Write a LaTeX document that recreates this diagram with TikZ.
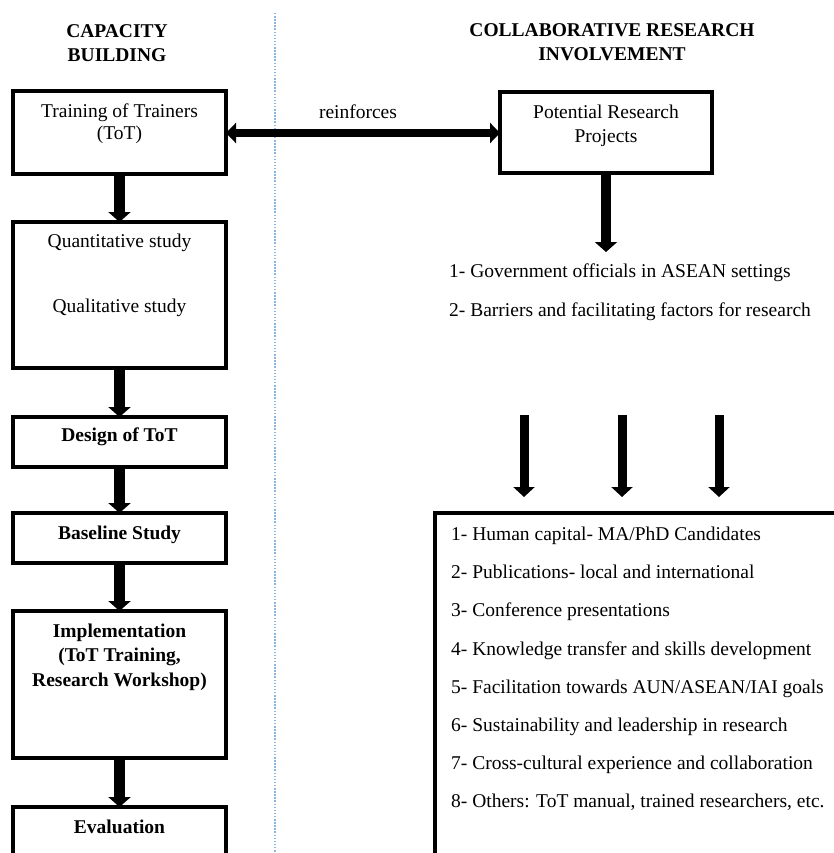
\documentclass[tikz,border=0pt]{standalone}
\usepackage{fontspec}
\setmainfont{Liberation Serif}
\usetikzlibrary{arrows.meta}
\definecolor{divider}{RGB}{140,180,225}
\begin{document}
\begin{tikzpicture}[x=1pt,y=-1pt,
  box/.style={draw, line width=3.1pt, inner sep=0pt, outer sep=0pt},
  txt/.style={font=\fontsize{19.5}{22}\selectfont, align=center, inner sep=0pt},
  head/.style={font=\fontsize{19.5}{24}\selectfont\bfseries, align=center, inner sep=0pt},
  flow/.style={line width=10.5pt, -{Triangle[width=22pt,length=10pt]}},
  thinflow/.style={line width=9pt, -{Triangle[width=21pt,length=10pt]}},
  both/.style={line width=8pt, {Triangle[width=20pt,length=10pt]}-{Triangle[width=20pt,length=10pt]}}]
\useasboundingbox (0,0) rectangle (834,853);
\clip (0,0) rectangle (834,853);
\fill[white] (0,0) rectangle (834,853);

% divider
\coordinate (dtop) at (275,13);
\coordinate (dbot) at (275,853);
\draw[divider, line width=1.2pt, dash pattern=on 1.5pt off 1.6pt] (dtop) -- (dbot);

% headers
\node[head] (hleft) at (117,43) {CAPACITY\\BUILDING};
\node[head] (hright) at (612,42) {COLLABORATIVE RESEARCH\\INVOLVEMENT};

% left column boxes
\node[box, minimum width=213pt, minimum height=83pt, anchor=north west] (tot) at (13,91) {};
\node[txt] (totT) at (119.5,124) {Training of Trainers\\(ToT)};

\node[box, minimum width=213pt, minimum height=146pt, anchor=north west] (study) at (13,222) {};
\node[txt, font=\fontsize{19.5}{65}\selectfont] (studyT) at (119.5,275) {Quantitative study\\Qualitative study};

\node[box, minimum width=213pt, minimum height=50pt, anchor=north west] (design) at (13,417) {};
\node[txt, font=\fontsize{19.5}{22}\selectfont\bfseries] (designT) at (119.5,437) {Design of ToT};

\node[box, minimum width=213pt, minimum height=50pt, anchor=north west] (base) at (13,513) {};
\node[txt, font=\fontsize{19.5}{22}\selectfont\bfseries] (baseT) at (119.5,535) {Baseline Study};

\node[box, minimum width=213pt, minimum height=147pt, anchor=north west] (impl) at (13,611) {};
\node[txt, font=\fontsize{19.5}{24.5}\selectfont\bfseries] (implT) at (119.5,657) {Implementation\\(ToT Training,\\Research Workshop)};

\node[box, minimum width=213pt, minimum height=120pt, anchor=north west] (eval) at (13,807) {};
\node[txt, font=\fontsize{19.5}{22}\selectfont\bfseries] (evalT) at (119.5,827) {Evaluation};

% left column arrows
\draw[flow] (tot.south) -- (study.north);
\draw[flow] (study.south) -- (design.north);
\draw[flow] (design.south) -- (base.north);
\draw[flow] (base.south) -- (impl.north);
\draw[flow] (impl.south) -- (eval.north);

% right column
\node[box, minimum width=212pt, minimum height=81pt, anchor=north west] (proj) at (500,92) {};
\node[txt, font=\fontsize{19.5}{24}\selectfont] (projT) at (606,126) {Potential Research\\Projects};

\draw[both] (tot.east |- 0,133) -- (proj.west |- 0,133);
\node[txt] (reinf) at (358,112) {reinforces};

\coordinate (projtip) at (606,252);
\draw[flow] (proj.south) -- (projtip);

\node[txt, align=left, anchor=west, font=\fontsize{19.5}{39}\selectfont] (topics) at (449,292)
  {1- Government officials in ASEAN settings\\2- Barriers and facilitating factors for research};

\coordinate (a1s) at (524,415); \coordinate (a1e) at (524,497);
\coordinate (a2s) at (622,415); \coordinate (a2e) at (622,497);
\coordinate (a3s) at (719,415); \coordinate (a3e) at (719,497);
\draw[thinflow] (a1s) -- (a1e);
\draw[thinflow] (a2s) -- (a2e);
\draw[thinflow] (a3s) -- (a3e);

\node[box, minimum width=500pt, minimum height=400pt, anchor=north west] (outcomes) at (435,513) {};
\node[txt, align=left, anchor=west, font=\fontsize{19.5}{38.2}\selectfont] (outT) at (451,669)
  {1- Human capital- MA/PhD Candidates\\
   2- Publications- local and international\\
   3- Conference presentations\\
   4- Knowledge transfer and skills development\\
   5- Facilitation towards AUN/ASEAN/IAI goals\\
   6- Sustainability and leadership in research\\
   7- Cross-cultural experience and collaboration\\
   8- Others: ToT manual, trained researchers, etc.};
\end{tikzpicture}
\end{document}
